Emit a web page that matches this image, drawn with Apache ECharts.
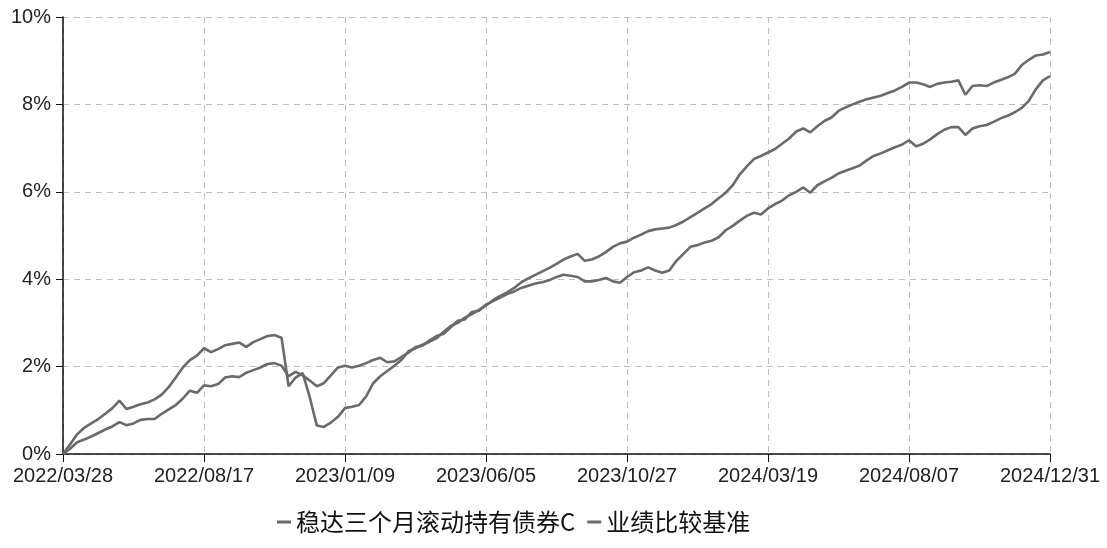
<!DOCTYPE html>
<html>
<head>
<meta charset="utf-8">
<script src="https://cdn.jsdelivr.net/npm/echarts@6/dist/echarts.min.js"></script>
<style>
html,body{margin:0;padding:0;background:#fff;}
#chart{width:1107px;height:548px;}
</style>
</head>
<body>
<div id="chart"></div>
<script>
// Tick labels shown on the x axis (every 20th category)
var tickLabels = ['2022/03/28','2022/08/17','2023/01/09','2023/06/05','2023/10/27','2024/03/19','2024/08/07','2024/12/31'];
var pointsPerSegment = 20;

// Series names
var seriesNames = ['稳达三个月滚动持有债券C', '业绩比较基准'];

// Cumulative return (%), one value per category
var fundValues = [
  0,0.22,0.45,0.6,0.7,0.8,0.92,1.05,1.22,1.03,1.08,1.14,1.18,1.25,1.36,1.53,1.75,1.98,2.15,2.25,
  2.42,2.33,2.4,2.49,2.52,2.55,2.45,2.56,2.63,2.7,2.72,2.66,1.55,1.75,1.85,1.3,0.65,0.62,0.72,0.85,
  1.05,1.08,1.12,1.32,1.62,1.78,1.9,2.02,2.15,2.35,2.42,2.5,2.57,2.65,2.8,2.93,3.0,3.12,3.2,3.3,
  3.4,3.52,3.62,3.7,3.8,3.93,4.02,4.1,4.18,4.26,4.35,4.45,4.52,4.58,4.42,4.45,4.52,4.62,4.74,4.82,
  4.86,4.95,5.02,5.1,5.14,5.16,5.18,5.24,5.32,5.42,5.52,5.62,5.72,5.85,5.98,6.15,6.4,6.58,6.75,6.82,
  6.9,6.98,7.1,7.22,7.38,7.45,7.36,7.5,7.62,7.7,7.85,7.93,8.0,8.06,8.12,8.16,8.2,8.26,8.32,8.4,
  8.5,8.5,8.46,8.4,8.47,8.5,8.52,8.55,8.22,8.42,8.44,8.42,8.5,8.56,8.62,8.7,8.9,9.02,9.12,9.14,
  9.2
];
var benchValues = [
  0,0.12,0.27,0.33,0.4,0.48,0.56,0.63,0.73,0.66,0.7,0.78,0.8,0.8,0.92,1.02,1.12,1.27,1.45,1.4,
  1.57,1.55,1.6,1.75,1.78,1.76,1.86,1.92,1.98,2.06,2.08,2.02,1.78,1.88,1.8,1.68,1.55,1.62,1.8,1.98,
  2.02,1.98,2.02,2.08,2.15,2.2,2.1,2.12,2.22,2.32,2.45,2.48,2.6,2.7,2.75,2.9,3.05,3.08,3.25,3.28,
  3.42,3.5,3.58,3.66,3.72,3.8,3.85,3.9,3.93,3.98,4.05,4.1,4.08,4.05,3.95,3.95,3.98,4.03,3.95,3.92,
  4.05,4.16,4.2,4.27,4.2,4.15,4.2,4.42,4.58,4.74,4.78,4.84,4.88,4.96,5.12,5.22,5.34,5.45,5.52,5.48,
  5.62,5.72,5.8,5.92,6.0,6.1,5.98,6.15,6.24,6.32,6.42,6.48,6.54,6.6,6.72,6.82,6.88,6.95,7.02,7.08,
  7.18,7.04,7.1,7.2,7.32,7.42,7.48,7.48,7.3,7.45,7.5,7.53,7.6,7.68,7.74,7.82,7.92,8.08,8.35,8.55,
  8.65
];

// Category dates: tick dates plus evenly spread dates between them
function parseD(s){var p=s.split('/');return new Date(+p[0],+p[1]-1,+p[2]);}
function fmt(d){var m=d.getMonth()+1,dd=d.getDate();return d.getFullYear()+'/'+(m<10?'0':'')+m+'/'+(dd<10?'0':'')+dd;}
var categories = [];
for (var s = 0; s < tickLabels.length - 1; s++) {
  var a = parseD(tickLabels[s]).getTime(), b = parseD(tickLabels[s+1]).getTime();
  categories.push(tickLabels[s]);
  for (var k = 1; k < pointsPerSegment; k++) {
    categories.push(fmt(new Date(Math.round(a + (b - a) * k / pointsPerSegment))));
  }
}
categories.push(tickLabels[tickLabels.length - 1]);

var lineColor = '#6a6a6a';
var chart = echarts.init(document.getElementById('chart'));
chart.setOption({
  backgroundColor: '#ffffff',
  animation: false,
  grid: {left: 63, right: 57, top: 17, bottom: 94, containLabel: false},
  legend: {
    bottom: 9,
    left: 272,
    icon: 'rect',
    itemWidth: 14,
    itemHeight: 3,
    itemGap: 12,
    textStyle: {fontSize: 24, color: '#111', fontFamily: 'Noto Sans CJK SC'},
    data: seriesNames
  },
  xAxis: {
    type: 'category',
    boundaryGap: false,
    data: categories,
    axisLine: {show: true, lineStyle: {color: '#111', width: 1.5}},
    axisTick: {show: true, interval: pointsPerSegment - 1, length: 8, lineStyle: {color: '#111'}},
    axisLabel: {
      interval: pointsPerSegment - 1, showMaxLabel: true, showMinLabel: true,
      fontSize: 20, color: '#222', margin: 12, fontFamily: 'Liberation Sans'
    },
    splitLine: {show: true, interval: pointsPerSegment - 1, lineStyle: {color: '#bdbdbd', type: [6, 5], width: 1}}
  },
  yAxis: {
    type: 'value',
    min: 0, max: 10, interval: 2,
    axisLine: {show: true, lineStyle: {color: '#111', width: 1.5}},
    axisTick: {show: true, length: 7, lineStyle: {color: '#111'}},
    axisLabel: {formatter: '{value}%', fontSize: 20, color: '#222', margin: 12, fontFamily: 'Liberation Sans'},
    splitLine: {show: true, lineStyle: {color: '#bdbdbd', type: [6, 5], width: 1}}
  },
  series: [
    {name: seriesNames[0], type: 'line', data: fundValues, showSymbol: false, symbol: 'none',
     lineStyle: {color: lineColor, width: 2.6}, itemStyle: {color: lineColor}},
    {name: seriesNames[1], type: 'line', data: benchValues, showSymbol: false, symbol: 'none',
     lineStyle: {color: lineColor, width: 2.6}, itemStyle: {color: lineColor}}
  ]
});
</script>
</body>
</html>
